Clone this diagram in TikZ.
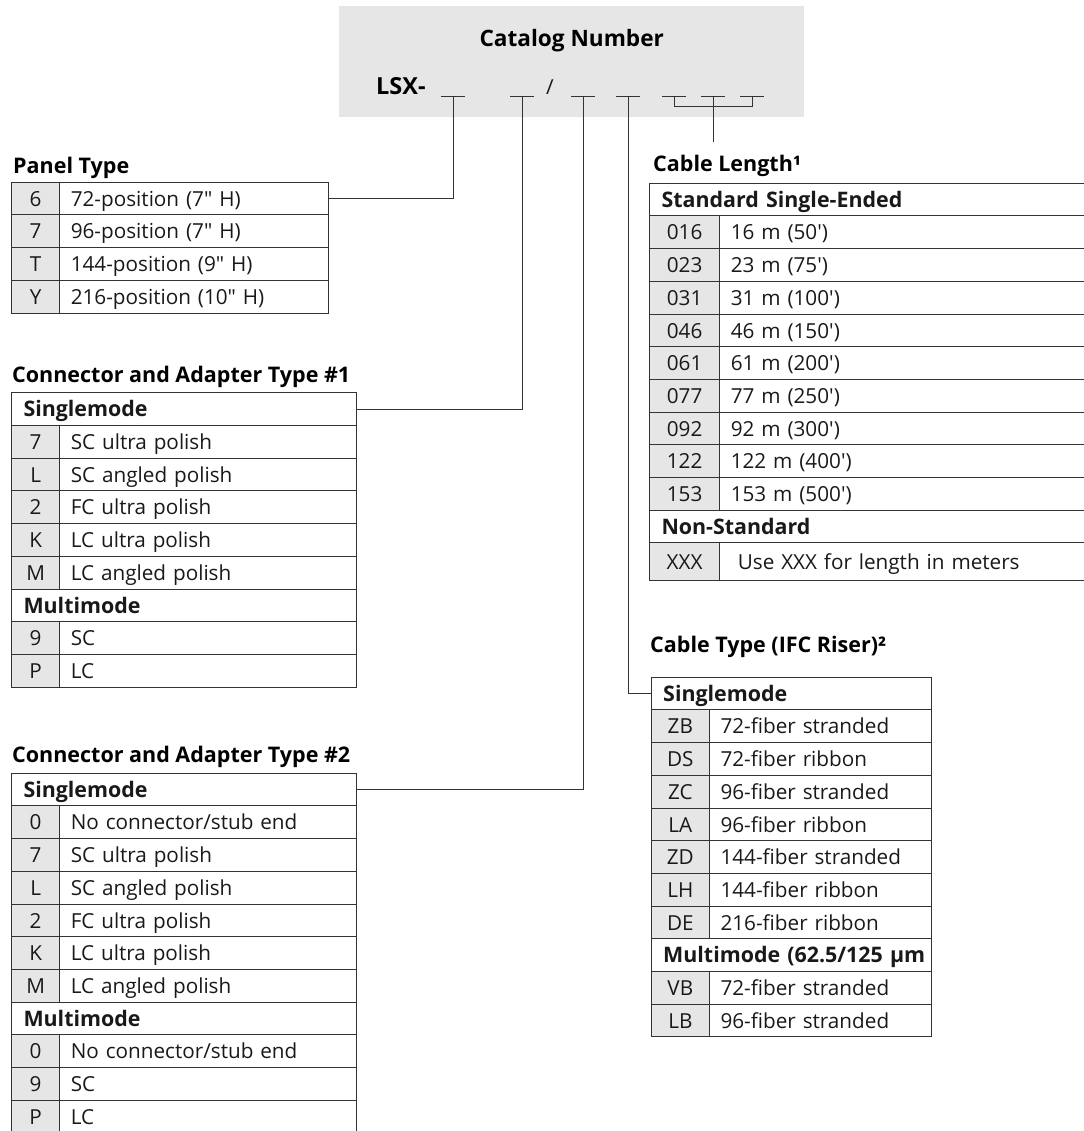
\documentclass[tikz,border=0pt]{standalone}
\usepackage{fontspec}
\newfontfamily\catfont{Open Sans}
\definecolor{linecol}{HTML}{333333}
\definecolor{cellgray}{HTML}{E6E6E6}
\tikzset{
  txt/.style={font=\catfont\fontsize{20.7}{24}\selectfont, text=black!90},
  ttl/.style={font=\catfont\bfseries\fontsize{21.5}{25}\selectfont, anchor=base west, inner sep=0pt},
  cell/.style={txt, draw=linecol, line width=1pt, minimum height=32.7pt, text height=17pt, text depth=1.7pt, inner ysep=0pt, anchor=north west},
  codecell/.style={cell, fill=cellgray, inner xsep=0pt, text width=#1, align=center},
  desccell/.style={cell, inner xsep=11pt, text width=#1, align=left},
  headcell/.style={cell, font=\catfont\bfseries\fontsize{21.4}{24}\selectfont, inner xsep=12pt, text width=#1, align=left},
  wire/.style={draw=linecol, line width=1pt}
}
\begin{document}
\begin{tikzpicture}[x=1pt, y=-1pt]
    \useasboundingbox (0,0) rectangle (1083,1131);

    % catalog number box
    \fill[cellgray] (339,6) rectangle (804,117);
    \node[ttl, anchor=base, font=\catfont\bfseries\fontsize{22.6}{26}\selectfont] (catnum) at (571.7,46.7) {Catalog Number};
    \node[ttl, font=\catfont\bfseries\fontsize{23.5}{26}\selectfont] (lsx) at (376,94.3) {LSX-};
    \node[txt, anchor=base, inner sep=0pt] (slash) at (550,94.3) {/};

    \coordinate (u1) at (453,97);
    \coordinate (u2) at (522,97);
    \coordinate (u3) at (583,97);
    \coordinate (u4) at (628,97);
    \coordinate (u5) at (674,97);
    \coordinate (u6) at (713,97);
    \coordinate (u7) at (752,97);
    \coordinate (bm) at (713,106.7);
    \coordinate (clend) at (713,142);
    \foreach \u in {1,...,7}
        \draw[wire] ([xshift=-12pt]u\u) -- ([xshift=12pt]u\u);

    % panel type
    \node[ttl] (ptitle) at (13,174) {Panel Type};
    \foreach \c/\d [count=\i] in {6/72-position (7" H), 7/96-position (7" H), T/144-position (9" H), Y/216-position (10" H)} {
        \node[codecell=48.3pt] (pc\i) at (11,{181.7+32.7*(\i-1)}) {\c};
        \node[desccell=246.4pt] (pd\i) at (59.3,{181.7+32.7*(\i-1)}) {\d};
    }

    % connector and adapter type #1
    \node[ttl] (c1title) at (12,382) {Connector and Adapter Type \#1};
    \node[headcell=320.5pt] (ca) at (11,392.3) {Singlemode};
    \foreach \c/\d [count=\i] in {7/SC ultra polish, L/SC angled polish, 2/FC ultra polish, K/LC ultra polish, M/LC angled polish} {
        \node[codecell=48.3pt] (cas\i) at (11,{392.3+32.7*\i}) {\c};
        \node[desccell=274.2pt] (cad\i) at (59.3,{392.3+32.7*\i}) {\d};
    }
    \node[headcell=320.5pt] (cam) at (11,{392.3+32.7*6}) {Multimode};
    \foreach \c/\d [count=\i] in {9/SC, P/LC} {
        \node[codecell=48.3pt] (cams\i) at (11,{392.3+32.7*(6+\i)}) {\c};
        \node[desccell=274.2pt] (camd\i) at (59.3,{392.3+32.7*(6+\i)}) {\d};
    }

    % connector and adapter type #2
    \node[ttl] (c2title) at (12,762) {Connector and Adapter Type \#2};
    \node[headcell=320.5pt] (cb) at (11,772.7) {Singlemode};
    \foreach \c/\d [count=\i] in {0/{No connector/stub end}, 7/SC ultra polish, L/SC angled polish, 2/FC ultra polish, K/LC ultra polish, M/LC angled polish} {
        \node[codecell=48.3pt] (cbs\i) at (11,{772.7+32.7*\i}) {\c};
        \node[desccell=274.2pt] (cbd\i) at (59.3,{772.7+32.7*\i}) {\d};
    }
    \node[headcell=320.5pt] (cbm) at (11,{772.7+32.7*7}) {Multimode};
    \foreach \c/\d [count=\i] in {0/{No connector/stub end}, 9/SC, P/LC} {
        \node[codecell=48.3pt] (cbms\i) at (11,{772.7+32.7*(7+\i)}) {\c};
        \node[desccell=274.2pt] (cbmd\i) at (59.3,{772.7+32.7*(7+\i)}) {\d};
    }

    % cable length
    \node[ttl] (cltitle) at (653,172) {Cable Length¹};
    \node[headcell=422pt] (cl) at (649,182.7) {Standard Single-Ended};
    \foreach \c/\d [count=\i] in {016/16 m (50'), 023/23 m (75'), 031/31 m (100'), 046/46 m (150'), 061/61 m (200'), 077/77 m (250'), 092/92 m (300'), 122/122 m (400'), 153/153 m (500')} {
        \node[codecell=70.3pt] (cls\i) at (649,{182.7+32.7*\i}) {\c};
        \node[desccell=353.7pt] (cld\i) at (719.3,{182.7+32.7*\i}) {\d};
    }
    \node[headcell=422pt] (cln) at (649,{182.7+32.7*10}) {Non-Standard};
    \node[codecell=70.3pt, minimum height=37.5pt] (clx) at (649,{182.7+32.7*11}) {XXX};
    \node[desccell=353.7pt, minimum height=37.5pt] (clxd) at (719.3,{182.7+32.7*11}) {\hspace{7pt}Use XXX for length in meters};

    % cable type
    \node[ttl] (cttitle) at (650,652) {Cable Type (IFC Riser)²};
    \node[headcell=256.3pt] (ct) at (650.7,676.7) {Singlemode};
    \foreach \c/\d [count=\i] in {ZB/72-fiber stranded, DS/72-fiber ribbon, ZC/96-fiber stranded, LA/96-fiber ribbon, ZD/144-fiber stranded, LH/144-fiber ribbon, DE/216-fiber ribbon} {
        \node[codecell=58.3pt] (cts\i) at (650.7,{676.7+32.7*\i}) {\c};
        \node[desccell=200pt] (ctd\i) at (709,{676.7+32.7*\i}) {\d};
    }
    \node[headcell=256.3pt] (ctm) at (650.7,{676.7+32.7*8}) {\makebox[0pt][l]{Multimode (62.5/125 µm}};
    \foreach \c/\d [count=\i] in {VB/72-fiber stranded, LB/96-fiber stranded} {
        \node[codecell=58.3pt] (ctms\i) at (650.7,{676.7+32.7*(8+\i)}) {\c};
        \node[desccell=200pt] (ctmd\i) at (709,{676.7+32.7*(8+\i)}) {\d};
    }

    % leader lines
    \draw[wire] (pd1.east) -| (u1);
    \draw[wire] (ca.east) -| (u2);
    \draw[wire] (cb.east) -| (u3);
    \draw[wire] (u4) |- (ct.west);
    \draw[wire] (u5) |- (bm) -| (u7);
    \draw[wire] (u6) -- (clend);
\end{tikzpicture}
\end{document}
